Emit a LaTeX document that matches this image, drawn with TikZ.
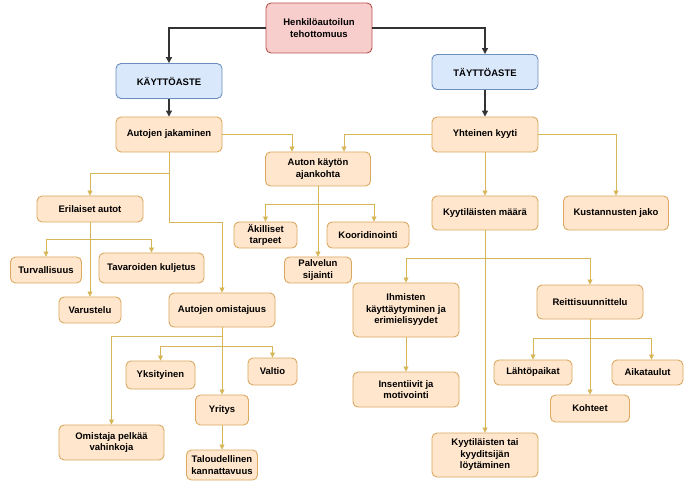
\documentclass[tikz,border=0pt]{standalone}
\usepackage{fontspec}
\setmainfont{Liberation Sans}
\definecolor{rootfill}{HTML}{F8CECC}
\definecolor{rootline}{HTML}{B85450}
\definecolor{levelfill}{HTML}{DAE8FC}
\definecolor{levelline}{HTML}{6C8EBF}
\definecolor{topicfill}{HTML}{FFE6CC}
\definecolor{topicline}{HTML}{DBA860}
\definecolor{linkgold}{HTML}{D6B656}
\definecolor{linkdark}{HTML}{333333}
\usetikzlibrary{arrows.meta}

\begin{document}
\begin{tikzpicture}[x=1pt, y=-1pt,
  topic/.style={draw=topicline, fill=topicfill, rounded corners=5pt, line width=0.9pt, align=center, inner sep=1pt, font=\bfseries\fontsize{9.5}{11.5}\selectfont},
  root/.style={topic, draw=rootline, fill=rootfill},
  level/.style={topic, draw=levelline, fill=levelfill},
  link/.style={draw=linkgold, line width=0.8pt, -{Triangle[width=5pt,length=5pt]}},
  mainlink/.style={draw=linkdark, line width=1.2pt, -{Triangle[width=6pt,length=6pt]}}]
  \fill[white] (0,0) rectangle (685,486);
  \useasboundingbox (0,0) rectangle (685,486);

  \node[root, minimum width=106, minimum height=50] (henk) at (319,28) {Henkilöautoilun\\tehottomuus};
  \node[level, minimum width=106, minimum height=35] (kaytto) at (169,81) {KÄYTTÖASTE};
  \node[level, minimum width=106, minimum height=35] (taytto) at (485,72) {TÄYTTÖASTE};
  \node[topic, minimum width=106, minimum height=35] (jakaminen) at (169,134.5) {Autojen jakaminen};
  \node[topic, minimum width=106, minimum height=35] (yhteinen) at (485,134.5) {Yhteinen kyyti};
  \node[topic, minimum width=105, minimum height=34] (ajankohta) at (318,169) {Auton käytön\\ajankohta};
  \node[topic, minimum width=106, minimum height=34] (maara) at (485,213) {Kyytiläisten määrä};
  \node[topic, minimum width=105, minimum height=34] (kustannus) at (616,213) {Kustannusten jako};

  \node[topic, minimum width=106, minimum height=26] (erilaiset) at (90,209) {Erilaiset autot};
  \node[topic, minimum width=71, minimum height=26] (turva) at (46,270) {Turvallisuus};
  \node[topic, minimum width=105, minimum height=30] (tavara) at (151.5,268) {Tavaroiden kuljetus};
  \node[topic, minimum width=62, minimum height=26] (varustelu) at (90,310) {Varustelu};

  \node[topic, minimum width=63, minimum height=26] (akilliset) at (265.5,235) {Äkilliset\\tarpeet};
  \node[topic, minimum width=82, minimum height=26] (koordinointi) at (368,235) {Kooridinointi};
  \node[topic, minimum width=67, minimum height=26] (palvelu) at (318,270) {Palvelun\\sijainti};

  \node[topic, minimum width=106, minimum height=34] (omistajuus) at (222,310) {Autojen omistajuus};
  \node[topic, minimum width=69, minimum height=28] (yksityinen) at (160.5,375) {Yksityinen};
  \node[topic, minimum width=49, minimum height=27] (valtio) at (272.5,371.5) {Valtio};
  \node[topic, minimum width=53, minimum height=30] (yritys) at (222,410) {Yritys};
  \node[topic, minimum width=105, minimum height=35] (omistaja) at (111.5,442.5) {Omistaja pelkää\\vahinkoja};
  \node[topic, minimum width=71, minimum height=30] (talous) at (222,465) {Taloudellinen\\kannattavuus};

  \node[topic, minimum width=106, minimum height=54] (ihmiset) at (406,310) {Ihmisten\\käyttäytyminen ja\\erimielisyydet};
  \node[topic, minimum width=106, minimum height=35] (insentiivit) at (406,389.5) {Insentiivit ja\\motivointi};
  \node[topic, minimum width=106, minimum height=34] (reitti) at (590,302) {Reittisuunnittelu};
  \node[topic, minimum width=78, minimum height=25] (lahto) at (533,372.5) {Lähtöpaikat};
  \node[topic, minimum width=71, minimum height=25] (aikataulu) at (647.5,372.5) {Aikataulut};
  \node[topic, minimum width=79, minimum height=27] (kohteet) at (590,408.5) {Kohteet};
  \node[topic, minimum width=106, minimum height=44] (loyto) at (485,455) {Kyytiläisten tai\\kyyditsijän\\löytäminen};

  \draw[mainlink] (henk.west) -| (kaytto.north);
  \draw[mainlink] (henk.east) -| (taytto.north);
  \draw[mainlink] (kaytto.south) -- (jakaminen.north);
  \draw[mainlink] (taytto.south) -- (yhteinen.north);

  \draw[link] (jakaminen.east) -| ([xshift=-26pt]ajankohta.north);
  \draw[link] (yhteinen.west) -| ([xshift=26pt]ajankohta.north);
  \draw[link] (yhteinen.south) -- (maara.north);
  \draw[link] (yhteinen.east) -| (kustannus.north);

  \draw[link] (jakaminen.south) -- ++(0,21) -| (erilaiset.north);
  \draw[link] (jakaminen.south) -- ++(0,70) -| (omistajuus.north);
  \draw[link] (erilaiset.south) -- (varustelu.north);
  \draw[link] (erilaiset.south) -- ++(0,17) -| (turva.north);
  \draw[link] (erilaiset.south) -- ++(0,17) -| (tavara.north);

  \draw[link] (ajankohta.south) -- (palvelu.north);
  \draw[link] (ajankohta.south) -- ++(0,18) -| (akilliset.north);
  \draw[link] (ajankohta.south) -- ++(0,18) -| ([xshift=6pt]koordinointi.north);

  \draw[link] (omistajuus.south) -- (yritys.north);
  \draw[link] (omistajuus.south) -- ++(0,9) -| (omistaja.north);
  \draw[link] (omistajuus.south) -- ++(0,19) -| (yksityinen.north);
  \draw[link] (omistajuus.south) -- ++(0,19) -| (valtio.north);
  \draw[link] (yritys.south) -- (talous.north);

  \draw[link] (maara.south) -- (loyto.north);
  \draw[link] (maara.south) -- ++(0,28) -| (ihmiset.north);
  \draw[link] (maara.south) -- ++(0,28) -| (reitti.north);
  \draw[link] (ihmiset.south) -- (insentiivit.north);
  \draw[link] (reitti.south) -- (kohteet.north);
  \draw[link] (reitti.south) -- ++(0,19) -| (lahto.north);
  \draw[link] (reitti.south) -- ++(0,19) -| ([xshift=4pt]aikataulu.north);
\end{tikzpicture}
\end{document}
